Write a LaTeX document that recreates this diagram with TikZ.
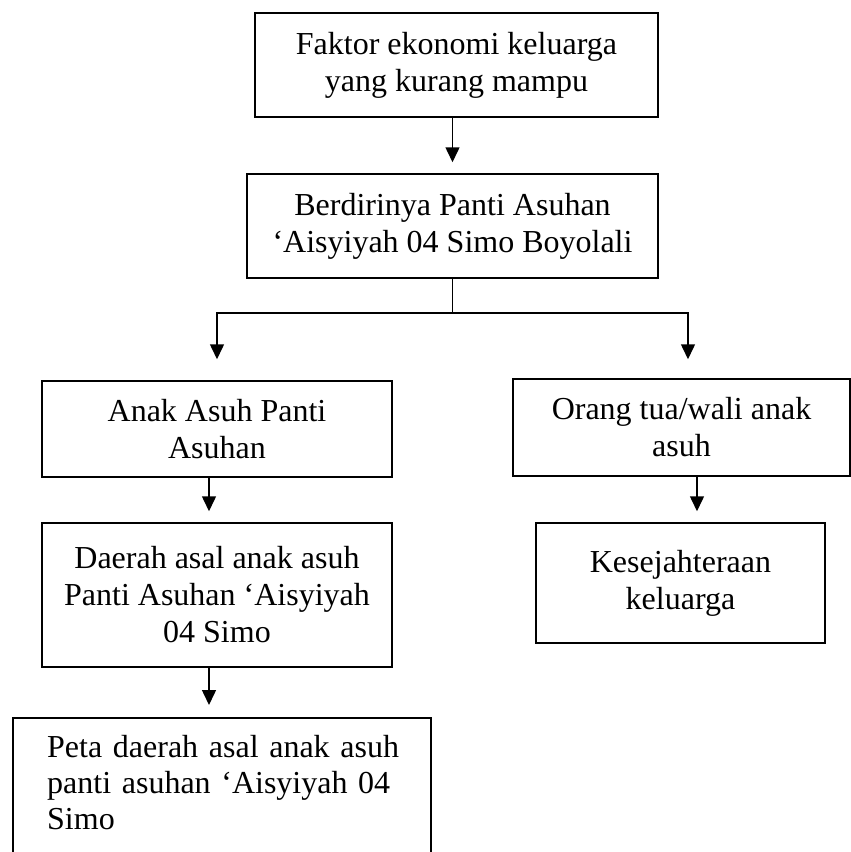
\documentclass[tikz,border=0pt]{standalone}
\usepackage{fontspec}
\setmainfont{Liberation Serif}
\usetikzlibrary{arrows.meta}
\begin{document}
\begin{tikzpicture}[x=1pt,y=-1pt,
  box/.style={draw,line width=1.5pt,inner sep=0pt,align=center,font=\fontsize{32}{37}\selectfont},
  arr/.style={line width=1.5pt,-{Triangle[width=14pt,length=15pt]}},
  ln/.style={line width=1.5pt}]
\useasboundingbox (0,0) rectangle (851,852);
\clip (0,0) rectangle (851,852);
\node[box,minimum width=403pt,minimum height=104pt] (b1) at (456.5,65) {Faktor ekonomi keluarga\\yang kurang mampu};
\node[box,minimum width=411pt,minimum height=104pt] (b2) at (452.5,226) {Berdirinya Panti Asuhan\\‘Aisyiyah 04 Simo Boyolali};
\node[box,minimum width=350pt,minimum height=96pt] (b3) at (217,429) {Anak Asuh Panti\\Asuhan};
\node[box,minimum width=337pt,minimum height=97pt] (b4) at (681.5,427.5) {Orang tua/wali anak\\asuh};
\node[box,minimum width=350pt,minimum height=144pt] (b5) at (217,595) {Daerah asal anak asuh\\Panti Asuhan ‘Aisyiyah\\04 Simo};
\node[box,minimum width=289pt,minimum height=120pt] (b6) at (680.5,583) {Kesejahteraan\\keluarga};
\node[draw,line width=1.5pt,inner sep=0pt,minimum width=418pt,minimum height=300pt,anchor=north west] (b7) at (12,717) {};
\node[font=\fontsize{32}{36}\selectfont,text width=361pt,inner sep=0pt,anchor=north west,align=left] (t7) at (47,735)
  {\makebox[361pt][s]{Peta daerah asal anak asuh}\\\makebox[361pt][s]{panti asuhan ‘Aisyiyah 04}\\Simo};
% connectors
\coordinate (sp) at (452.5,313);
\coordinate (R) at (688,313);
\coordinate (xa) at (209,0);
\coordinate (xb) at (697,0);
\draw[arr,shorten >=11pt] (b2.north |- b1.south) -- (b2.north);
\draw[arr,shorten >=21pt] (b2.south) -- (sp) -| (b3.north);
\draw[arr,shorten >=19pt] (sp) -- (R) -- (R |- b4.north);
\draw[arr,shorten >=11pt] (b3.south -| xa) -- (b5.north -| xa);
\draw[arr,shorten >=11pt] (b4.south -| xb) -- (b6.north -| xb);
\draw[arr,shorten >=12pt] (b5.south -| xa) -- (b7.north -| xa);
\end{tikzpicture}
\end{document}
